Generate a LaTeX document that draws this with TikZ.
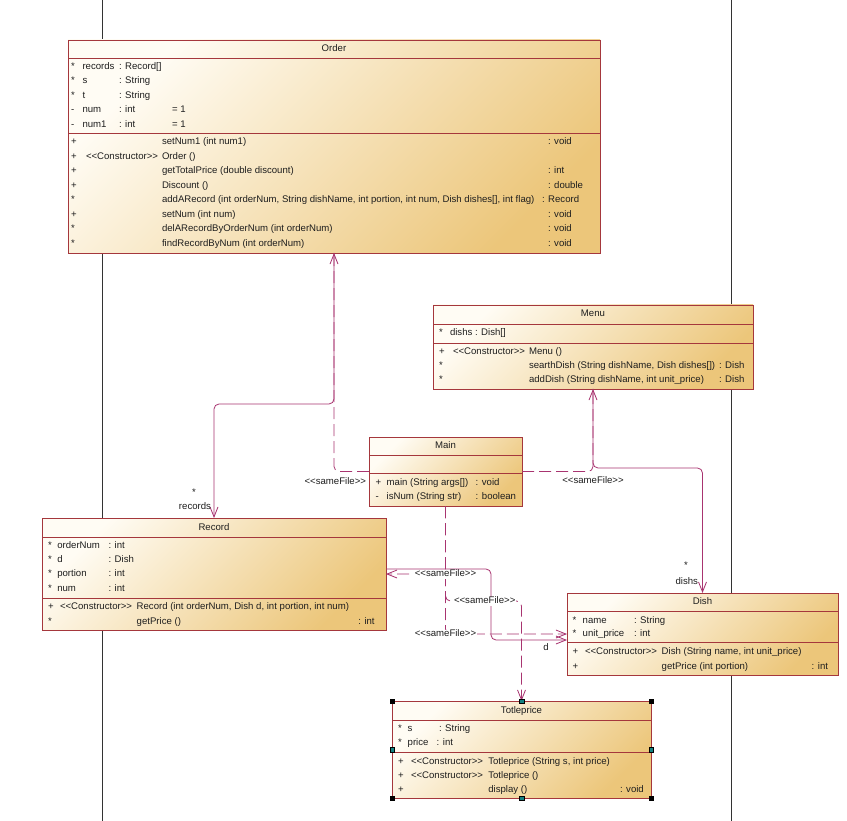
\documentclass[tikz,border=0pt]{standalone}
\usepackage{fontspec}
\setmainfont{Liberation Sans}[Ligatures=TeXOff]
\usetikzlibrary{arrows.meta,calc}
\definecolor{bord}{RGB}{165,55,60}
\definecolor{conn}{RGB}{168,52,112}
\definecolor{fillA}{RGB}{255,252,244}
\definecolor{fillB}{RGB}{236,198,122}
\definecolor{txtc}{RGB}{30,30,30}
\definecolor{handle}{RGB}{20,130,130}
\newcount\tcnt
\newcommand\T[3]{\global\advance\tcnt by 1\relax\node[txt] (t\the\tcnt) at (#1,#2) {#3};}
\newcommand\TC[3]{\global\advance\tcnt by 1\relax\node[txt,anchor=center] (t\the\tcnt) at (#1,#2) {#3};}
\begin{document}
\begin{tikzpicture}[x=1pt,y=-1pt,
  txt/.style={inner sep=0pt, outer sep=0pt, anchor=west, font=\fontsize{9.6}{11}\selectfont, text=txtc, text height=7pt, text depth=2pt},
  lbl/.style={txt, fill=white, inner xsep=1pt},
  cls/.style={draw=bord, line width=0.9pt, inner sep=0pt, outer sep=0pt, anchor=north west,
     top color=fillA, bottom color=fillB, shading angle=45},
  sep/.style={draw=bord, line width=0.9pt},
  conline/.style={draw=conn, line width=0.8pt, rounded corners=5pt, -{Straight Barb[length=10pt,width=8pt]}},
  assoc/.style={conline},
  dep/.style={conline, dash pattern=on 12pt off 5pt},
  life/.style={draw=black!80, line width=0.7pt},
  hdl/.style={draw=black, fill=black, line width=0.4pt, minimum size=4.5pt, inner sep=0pt},
  hdlm/.style={hdl, fill=handle}
]
\useasboundingbox (0,0) rectangle (847,821);
\fill[white] (0,0) rectangle (847,821);
% vertical lines
\draw[life] (102,0) -- (102,821);
\draw[life] (731.5,0) -- (731.5,821);

% ---------- Order ----------
\node[cls, minimum width=532pt, minimum height=213pt] (order) at (68,40) {};
\draw[sep] (68,58.5) -- (600,58.5);
\draw[sep] (68,133.5) -- (600,133.5);
\TC{334}{49.5}{Order}
\T{71}{67}{*}\T{82.5}{67}{records}\T{119}{67}{: Record[]}
\T{71}{81.5}{*}\T{82.5}{81.5}{s}\T{119}{81.5}{: String}
\T{71}{96}{*}\T{82.5}{96}{t}\T{119}{96}{: String}
\T{71}{110.5}{-}\T{82.5}{110.5}{num}\T{119}{110.5}{: int}\T{172}{110.5}{= 1}
\T{71}{125}{-}\T{82.5}{125}{num1}\T{119}{125}{: int}\T{172}{125}{= 1}
\T{71}{142.5}{+}\T{162}{142.5}{setNum1 (int num1)}\T{548}{142.5}{: void}
\T{71}{157}{+}\T{86}{157}{<<Constructor>>}\T{162}{157}{Order ()}
\T{71}{171.5}{+}\T{162}{171.5}{getTotalPrice (double discount)}\T{548}{171.5}{: int}
\T{71}{186}{+}\T{162}{186}{Discount ()}\T{548}{186}{: double}
\T{71}{200.5}{*}\T{162}{200.5}{addARecord (int orderNum, String dishName, int portion, int num, Dish dishes[], int flag)}\T{542}{200.5}{: Record}
\T{71}{215}{+}\T{162}{215}{setNum (int num)}\T{548}{215}{: void}
\T{71}{229.5}{*}\T{162}{229.5}{delARecordByOrderNum (int orderNum)}\T{548}{229.5}{: void}
\T{71}{244}{*}\T{162}{244}{findRecordByNum (int orderNum)}\T{548}{244}{: void}

% ---------- Menu ----------
\node[cls, minimum width=320pt, minimum height=84pt] (menu) at (433,305) {};
\draw[sep] (433,324) -- (753,324);
\draw[sep] (433,343) -- (753,343);
\TC{593}{314.5}{Menu}
\T{439}{333.5}{*}\T{450}{333.5}{dishs}\T{475}{333.5}{: Dish[]}
\T{439}{352.3}{+}\T{453}{352.3}{<<Constructor>>}\T{529}{352.3}{Menu ()}
\T{439}{366.5}{*}\T{529}{366.5}{searthDish (String dishName, Dish dishes[])}\T{719}{366.5}{: Dish}
\T{439}{380.5}{*}\T{529}{380.5}{addDish (String dishName, int unit\_price)}\T{719}{380.5}{: Dish}

% ---------- Main ----------
\node[cls, minimum width=153pt, minimum height=69pt] (mainc) at (369,437) {};
\draw[sep] (369,455) -- (522,455);
\draw[sep] (369,473.5) -- (522,473.5);
\TC{445.5}{446}{Main}
\T{375.5}{482.7}{+}\T{386.7}{482.7}{main (String args[])}\T{475.7}{482.7}{: void}
\T{375.5}{497}{-}\T{386.7}{497}{isNum (String str)}\T{475.7}{497}{: boolean}

% ---------- Record ----------
\node[cls, minimum width=344pt, minimum height=112pt] (record) at (42,518) {};
\draw[sep] (42,537) -- (386,537);
\draw[sep] (42,598) -- (386,598);
\TC{214}{527.5}{Record}
\T{48}{546}{*}\T{57.3}{546}{orderNum}\T{108.5}{546}{: int}
\T{48}{560.2}{*}\T{57.3}{560.2}{d}\T{108.5}{560.2}{: Dish}
\T{48}{574.3}{*}\T{57.3}{574.3}{portion}\T{108.5}{574.3}{: int}
\T{48}{588.5}{*}\T{57.3}{588.5}{num}\T{108.5}{588.5}{: int}
\T{48}{607.3}{+}\T{60}{607.3}{<<Constructor>>}\T{136.7}{607.3}{Record (int orderNum, Dish d, int portion, int num)}
\T{48}{621.5}{*}\T{136.7}{621.5}{getPrice ()}\T{358.3}{621.5}{: int}

% ---------- Dish ----------
\node[cls, minimum width=271pt, minimum height=82pt] (dish) at (567,593) {};
\draw[sep] (567,611.5) -- (838,611.5);
\draw[sep] (567,642.5) -- (838,642.5);
\TC{702.5}{601.5}{Dish}
\T{572.5}{620.5}{*}\T{582.7}{620.5}{name}\T{634}{620.5}{: String}
\T{572.5}{634}{*}\T{582.7}{634}{unit\_price}\T{634}{634}{: int}
\T{572.5}{652}{+}\T{585}{652}{<<Constructor>>}\T{661.7}{652}{Dish (String name, int unit\_price)}
\T{572.5}{666.5}{+}\T{661.7}{666.5}{getPrice (int portion)}\T{811.7}{666.5}{: int}

% ---------- Totleprice ----------
\node[cls, minimum width=259pt, minimum height=97pt] (totle) at (392,701) {};
\draw[sep] (392,720) -- (651,720);
\draw[sep] (392,752) -- (651,752);
\TC{521.5}{710.7}{Totleprice}
\T{398}{729.3}{*}\T{407.7}{729.3}{s}\T{439}{729.3}{: String}
\T{398}{743.3}{*}\T{407.7}{743.3}{price}\T{436.7}{743.3}{: int}
\T{398}{761.7}{+}\T{411}{761.7}{<<Constructor>>}\T{488.3}{761.7}{Totleprice (String s, int price)}
\T{398}{776}{+}\T{411}{776}{<<Constructor>>}\T{488.3}{776}{Totleprice ()}
\T{398}{790.3}{+}\T{488.3}{790.3}{display ()}\T{620}{790.3}{: void}

% ---------- connectors ----------
\coordinate (yA) at (0,404);
\coordinate (yB) at (0,468);
\coordinate (xC) at (491,0);
\coordinate (yD) at (0,601);
\coordinate (rE) at ([yshift=5pt]record.east);
\coordinate (dW) at ([yshift=-6pt]dish.west);

\draw[assoc] (order.south) -- (order.south |- yA) -| (record.north);
\draw[dep] (mainc.west) -| (order.south);
\draw[assoc] (menu.south) -- (menu.south |- yB) -| (dish.north);
\draw[dep] (mainc.east) -| (menu.south);
\draw[dep] (mainc.south) |- (record.east);
\draw[dep] (mainc.south) -- (mainc.south |- yD) -| (totle.north);
\draw[dep] (mainc.south) |- (dish.west);
\draw[assoc] (rE) -- (rE -| xC) |- (dW);

% labels
\node[txt, anchor=center] (m1) at (194,493) {*};
\node[txt, anchor=east] (m2) at (211,507) {records};
\node[txt, anchor=east] (l1) at (366,482) {<<sameFile>>};
\node[txt, anchor=center] (l2) at (593,481) {<<sameFile>>};
\node[txt, anchor=center] (m3) at (686,566) {*};
\node[txt, anchor=east] (m4) at (698,582) {dishs};
\node[lbl, anchor=center] (l3) at (445.5,574) {<<sameFile>>};
\node[lbl, anchor=west] (l4) at (453,601) {<<sameFile>>};
\node[lbl, anchor=center] (l5) at (445.5,634) {<<sameFile>>};
\node[txt, anchor=center] (m5) at (546,648) {d};

% selection handles
\node[hdl] (h1) at (totle.north west) {};
\node[hdlm] (h2) at (totle.north) {};
\node[hdl] (h3) at (totle.north east) {};
\node[hdlm] (h4) at (totle.west) {};
\node[hdlm] (h5) at (totle.east) {};
\node[hdl] (h6) at (totle.south west) {};
\node[hdlm] (h7) at (totle.south) {};
\node[hdl] (h8) at (totle.south east) {};
\end{tikzpicture}
\end{document}
